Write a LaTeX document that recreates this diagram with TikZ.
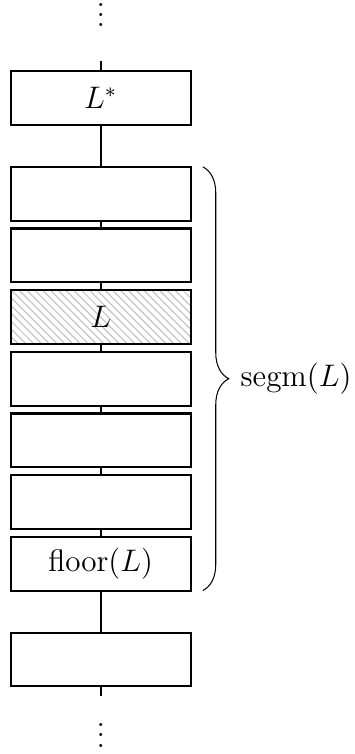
\documentclass[tikz,border=0pt,12pt]{standalone}
\usepackage{amsmath}
\usetikzlibrary{positioning, patterns, decorations.pathreplacing}
\newcommand\stackdots{\vbox{\baselineskip4pt \lineskiplimit0pt \hbox{.}\hbox{.}\hbox{.}}}
\tikzset{
		level/.style={draw, thick, outer sep=0pt, minimum width=69.2pt, minimum height=20.7pt, inner sep=0pt},
		marked/.style={level, pattern=north west lines, pattern color=gray!50},
		link/.style={thick},
		segbrace/.style={decorate, decoration={brace, amplitude=10pt}}
	}
\begin{document}
\begin{tikzpicture}[node distance=3.05pt]
				\useasboundingbox (-38.8pt,37.7pt) rectangle (97.9pt,-252.7pt);
				\node[level]  (Lstar)                        {$L^*$};
				\node[level]  (s1)    [below=16.2pt of Lstar] {};
				\node[level]  (s2)    [below=of s1]           {};
				\node[marked] (L)     [below=of s2]           {$L$};
				\node[level]  (s4)    [below=of L]            {};
				\node[level]  (s5)    [below=of s4]           {};
				\node[level]  (s6)    [below=of s5]           {};
				\node[level]  (floor) [below=of s6]           {$\mathrm{floor}(L)$};
				\node[level]  (last)  [below=16.2pt of floor] {};
				\coordinate[above=3.9pt of Lstar] (topend);
				\coordinate[below=3.9pt of last]  (botend);
				\node[inner sep=0pt] (topdots) [above=13.1pt of topend, anchor=base] {\stackdots};
				\node[inner sep=0pt] (botdots) [below=19.5pt of botend, anchor=base] {\stackdots};
				\foreach \a/\b in {topend/Lstar, Lstar/s1, s1/s2, s2/L, L/s4, s4/s5, s5/s6, s6/floor, floor/last, last/botend}
					\path[link] (\a) edge (\b);
				\draw[segbrace] ([xshift=4.7pt]s1.north east) -- ([xshift=4.7pt]floor.south east)
					node[midway, right=14.4pt, inner sep=0pt] (segm) {$\mathrm{segm}(L)$};
			\end{tikzpicture}
\end{document}
